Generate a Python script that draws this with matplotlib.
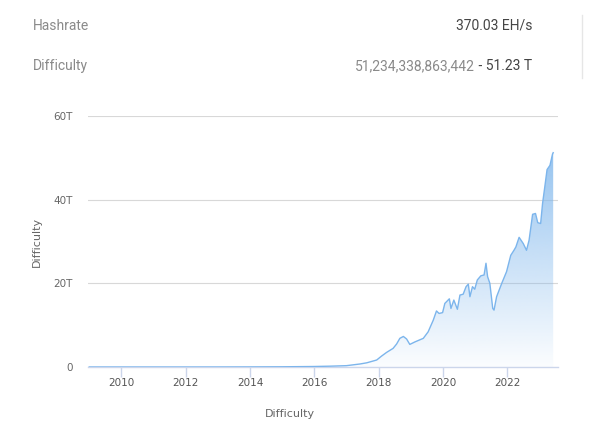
import numpy as np
import matplotlib
matplotlib.use("Agg")
import matplotlib.pyplot as plt
from matplotlib.patches import Polygon

# difficulty history (year, trillions)
years = [2009.0, 2010.0, 2011.0, 2012.0, 2013.0, 2014.0, 2015.0, 2016.0,
         2016.5, 2017.0, 2017.42, 2017.63, 2017.94, 2018.09, 2018.25, 2018.45,
         2018.56, 2018.66, 2018.77, 2018.87, 2018.97, 2019.13, 2019.39, 2019.54,
         2019.70, 2019.80, 2019.88, 2019.99, 2020.06, 2020.20, 2020.25, 2020.34,
         2020.45, 2020.53, 2020.63, 2020.72, 2020.79, 2020.84, 2020.92, 2020.99,
         2021.07, 2021.18, 2021.28, 2021.34, 2021.39, 2021.46, 2021.55, 2021.59,
         2021.67, 2021.83, 2021.98, 2022.11, 2022.21, 2022.27, 2022.37, 2022.50,
         2022.60, 2022.68, 2022.79, 2022.88, 2022.95, 2023.04, 2023.10, 2023.17,
         2023.24, 2023.33, 2023.41, 2023.43]
difficulty = [0.0, 0.0, 0.0, 0.0, 0.005, 0.02, 0.05, 0.12,
              0.2, 0.32, 0.72, 1.0, 1.67, 2.6, 3.5, 4.45,
              5.5, 6.85, 7.3, 6.7, 5.4, 6.0, 6.85, 8.4,
              11.2, 13.4, 12.8, 13.0, 15.2, 16.3, 14.0, 16.0,
              13.8, 17.2, 17.4, 19.2, 19.8, 16.8, 19.2, 18.6,
              20.8, 21.8, 22.0, 24.8, 21.6, 20.0, 14.0, 13.6,
              16.8, 20.0, 22.8, 26.7, 27.9, 28.7, 31.0, 29.5,
              27.9, 30.3, 36.5, 36.7, 34.5, 34.3, 39.1, 43.1,
              47.2, 48.2, 50.9, 51.23]

yticks = [0, 20, 40, 60]
ytick_labels = ["0", "20T", "40T", "60T"]
xticks = [2010, 2012, 2014, 2016, 2018, 2020, 2022]

plt.rcParams["font.family"] = ["Roboto", "DejaVu Sans"]

fig = plt.figure(figsize=(6.12, 4.34), dpi=100)
ax = fig.add_axes([88 / 612, 1 - 367 / 434, 470 / 612, 251 / 434])

x = np.array(years)
y = np.array(difficulty)
xmin, xmax = 2008.96, 2023.58
ymin, ymax = 0, 60

# gradient fill under the curve
grad = np.linspace(0.92, 0.03, 256).reshape(-1, 1)
rgba = np.zeros((256, 1, 4))
rgba[..., 0] = 124 / 255
rgba[..., 1] = 181 / 255
rgba[..., 2] = 236 / 255
rgba[..., 3] = grad
im = ax.imshow(rgba, extent=[xmin, xmax, ymin, ymax], aspect="auto",
               origin="upper", zorder=1, interpolation="bilinear")
poly = Polygon(np.column_stack([np.r_[x[0], x, x[-1]], np.r_[0, y, 0]]),
               closed=True, facecolor="none", edgecolor="none")
ax.add_patch(poly)
im.set_clip_path(poly)

ax.plot(x, y, color="#7cb5ec", lw=1.0, zorder=3)

ax.set_xlim(xmin, xmax)
ax.set_ylim(ymin, ymax)

for v in yticks[1:]:
    ax.axhline(v, color="#d8d8d8", lw=0.8, zorder=0)

for s in ["top", "right", "left"]:
    ax.spines[s].set_visible(False)
ax.spines["bottom"].set_color("#ccd6eb")
ax.spines["bottom"].set_linewidth(1.0)

ax.set_yticks(yticks)
ax.set_yticklabels(ytick_labels, family="DejaVu Sans")
ax.tick_params(axis="y", length=0, pad=11, labelsize=7.5, labelcolor="#666666")
ax.set_xticks(xticks)
ax.set_xticklabels([str(t) for t in xticks], family="DejaVu Sans")
ax.tick_params(axis="x", length=7, width=1, color="#ccd6eb", pad=1,
               labelsize=7.5, labelcolor="#555555")

ax.set_ylabel("Difficulty", family="DejaVu Sans", fontsize=8, color="#666666")
ax.yaxis.set_label_coords((37 - 88) / 470, 0.5)
ax.set_xlabel("Difficulty", family="DejaVu Sans", fontsize=8, color="#666666")
ax.xaxis.set_label_coords((290 - 88) / 470, (367 - 414) / 251)
ax.xaxis.label.set_va("center")
ax.yaxis.label.set_va("center")

# header rows
fig.text(33 / 612, 1 - 26 / 434, "Hashrate", fontsize=10, color="#8a8a8a",
         va="center", ha="left")
fig.text(532 / 612, 1 - 26 / 434, "370.03 EH/s", fontsize=10, color="#444444",
         va="center", ha="right")
fig.text(33 / 612, 1 - 66 / 434, "Difficulty", fontsize=10, color="#8a8a8a",
         va="center", ha="left")
t2 = fig.text(532 / 612, 1 - 66 / 434, " - 51.23 T", fontsize=10,
              color="#444444", va="center", ha="right")
fig.canvas.draw()
bb = t2.get_window_extent()
fig.text(bb.x0 / fig.bbox.width, 1 - 66 / 434, "51,234,338,863,442",
         fontsize=10, color="#8a8a8a", va="center", ha="right")
fig.add_artist(plt.Line2D([582 / 612, 582 / 612], [1 - 15 / 434, 1 - 78 / 434],
                          color="#e6e6e6", lw=1))

fig.savefig("out.png", dpi=100)
